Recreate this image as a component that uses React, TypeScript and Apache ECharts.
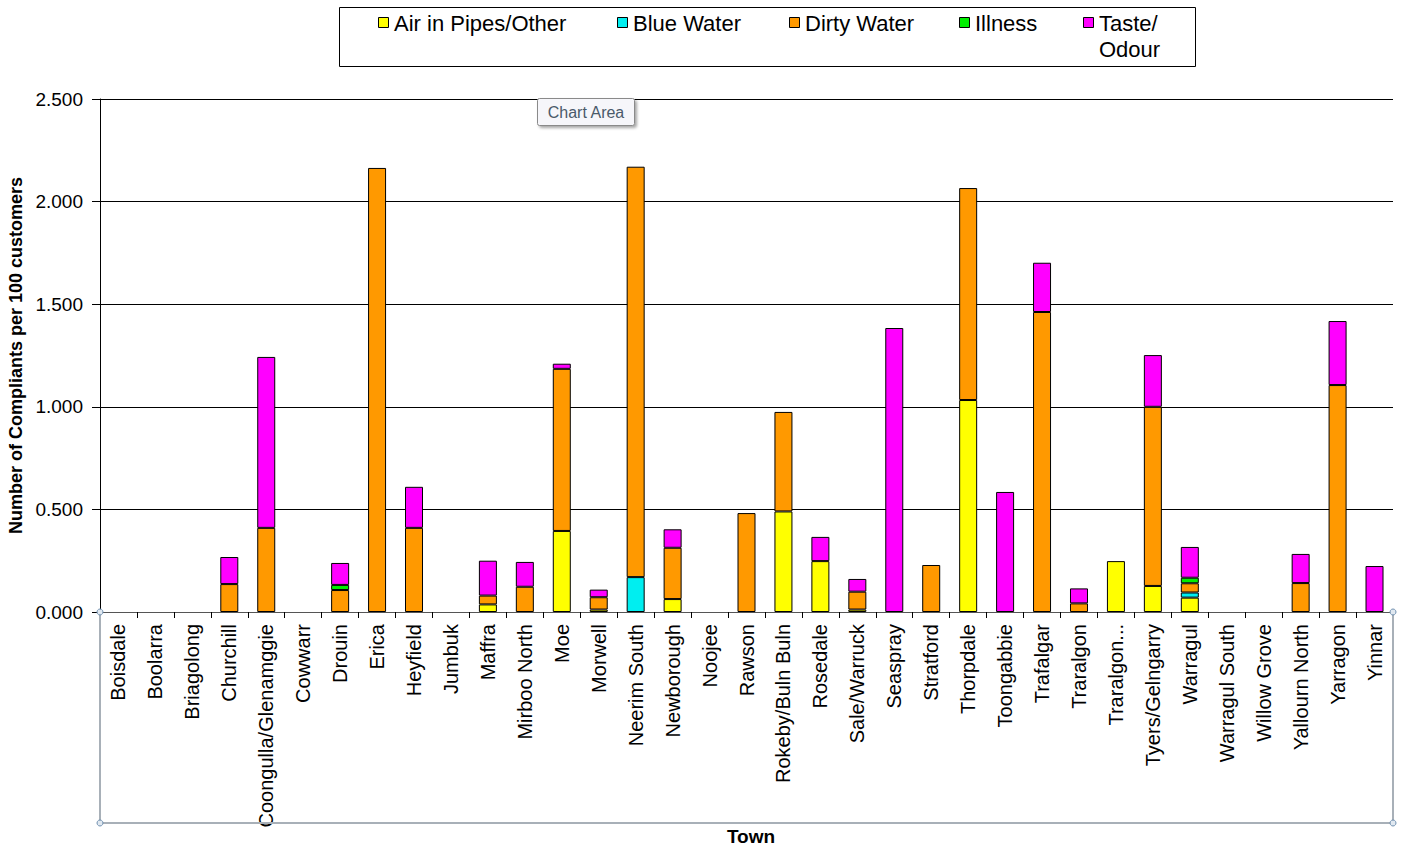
import React, { useEffect, useRef } from "react";
import * as echarts from "echarts";

const towns = [
  "Boisdale", "Boolarra", "Briagolong", "Churchill", "Coongulla/Glenamggie", "Cowwarr",
  "Drouin", "Erica", "Heyfield", "Jumbuk", "Maffra", "Mirboo North", "Moe", "Morwell",
  "Neerim South", "Newborough", "Noojee", "Rawson", "Rokeby/Buln Buln", "Rosedale",
  "Sale/Warruck", "Seaspray", "Stratford", "Thorpdale", "Toongabbie", "Trafalgar",
  "Traralgon", "Traralgon...", "Tyers/Gelngarry", "Warragul", "Warragul South",
  "Willow Grove", "Yallourn North", "Yarragon", "Yinnar",
];

const N = null;
const airInPipes = [N, N, N, N, N, N, N, N, N, N, 0.037, N, 0.395, 0.012, N, 0.063, N, N, 0.49, 0.248, 0.012, N, N, 1.033, N, N, N, 0.248, 0.127, 0.07, N, N, N, N, N];
const blueWater = [N, N, N, N, N, N, N, N, N, N, N, N, N, N, 0.17, N, N, N, N, N, N, N, N, N, N, N, N, N, N, 0.025, N, N, N, N, N];
const dirtyWater = [N, N, N, 0.136, 0.41, N, 0.107, 2.164, 0.41, N, 0.043, 0.123, 0.79, 0.06, 2.0, 0.25, N, 0.482, 0.485, N, 0.087, N, 0.229, 1.033, N, 1.462, 0.042, N, 0.873, 0.045, N, N, 0.141, 1.106, N];
const illness = [N, N, N, N, N, N, 0.025, N, N, N, N, N, N, N, N, N, N, N, N, N, N, N, N, N, N, N, N, N, N, 0.027, N, N, N, N, N];
const tasteOdour = [N, N, N, 0.132, 0.833, N, 0.107, N, 0.2, N, 0.17, 0.121, 0.025, 0.037, N, 0.09, N, N, N, 0.118, 0.062, 1.384, N, N, 0.585, 0.24, 0.073, N, 0.252, 0.15, N, N, 0.142, 0.312, 0.224];

const seriesNames = ["Air in Pipes/Other", "Blue Water", "Dirty Water", "Illness", "Taste/\nOdour"];
const seriesColors = ["#FFFF00", "#00EEF0", "#FF9900", "#00EE00", "#FF00FF"];
const seriesData = [airInPipes, blueWater, dirtyWater, illness, tasteOdour];
const yTicks = [0, 0.5, 1, 1.5, 2, 2.5];

const legendMarkerX = [378, 617, 789, 959, 1083];

const FONT = "'Liberation Sans', Arial, sans-serif";

export default function App() {
  const ref = useRef<HTMLDivElement>(null);
  useEffect(() => {
    if (!ref.current) return;
    const chart = echarts.init(ref.current, undefined, { renderer: "svg" });
    const legendGraphics: any[] = [
      {
        type: "rect",
        shape: { x: 339.5, y: 7.5, width: 856, height: 59 },
        style: { fill: "#fff", stroke: "#000", lineWidth: 1 },
      },
    ];
    seriesNames.forEach((name, i) => {
      legendGraphics.push({
        type: "rect",
        shape: { x: legendMarkerX[i] + 0.5, y: 17.5, width: 10, height: 10 },
        style: { fill: seriesColors[i], stroke: "#000", lineWidth: 1 },
      });
      legendGraphics.push({
        type: "text",
        x: legendMarkerX[i] + 16,
        y: 10,
        style: { text: name, font: `22px ${FONT}`, fill: "#000", lineHeight: 26, textVerticalAlign: "top" },
      });
    });
    const frame: any[] = [
      { type: "polyline", shape: { points: [[100, 612], [100, 823], [1393, 823], [1393, 612]] }, style: { stroke: "#A8B0B8", lineWidth: 2, fill: null }, z: 1 },
    ];
    [[100, 612], [1393, 612], [100, 823], [1393, 823]].forEach(([cx, cy]) => {
      frame.push({ type: "circle", shape: { cx, cy, r: 3 }, style: { fill: "#E0E8F0", stroke: "#7090B0", lineWidth: 1 }, z: 10 });
    });
    const tip: any[] = [
      { type: "rect", shape: { x: 537.5, y: 98.5, width: 97, height: 27, r: 2 }, style: { fill: "#F6F6FA", stroke: "#8A8A8A", lineWidth: 1, shadowBlur: 3, shadowOffsetX: 2, shadowOffsetY: 2, shadowColor: "rgba(0,0,0,0.35)" }, z: 20 },
      { type: "text", x: 586, y: 112, style: { text: "Chart Area", font: `16px ${FONT}`, fill: "#4A5A6A", textAlign: "center", textVerticalAlign: "middle" }, z: 21 },
    ];
    chart.setOption({
      animation: false,
      backgroundColor: "#fff",
      grid: { left: 100, right: 9, top: 99, bottom: 235, containLabel: false, outerBoundsMode: "none" },
      xAxis: {
        type: "category",
        data: towns,
        axisLine: { lineStyle: { color: "#555", width: 1 } },
        axisTick: { show: true, length: 6, lineStyle: { color: "#000" } },
        axisLabel: { rotate: 90, interval: 0, margin: 12, fontFamily: FONT, fontSize: 20, color: "#000" },
      },
      yAxis: {
        type: "value",
        min: 0,
        max: 2.5,
        interval: 0.5,
        name: "Number of Compliants per 100 customers",
        nameLocation: "middle",
        nameGap: 74,
        nameTextStyle: { fontFamily: FONT, fontWeight: "bold", fontSize: 18, color: "#000" },
        axisLine: { show: true, lineStyle: { color: "#000", width: 1 } },
        axisTick: { show: true, inside: false, length: 8, lineStyle: { color: "#000" } },
        splitLine: { show: true, lineStyle: { color: "#000", width: 1 } },
        axisLabel: {
          fontFamily: FONT,
          fontSize: 19,
          color: "#000",
          margin: 17,
          formatter: (v: number) => (yTicks.includes(v) ? v.toFixed(3) : ""),
        },
      },
      series: seriesNames.map((name, i) => ({
        name,
        type: "bar",
        stack: "total",
        barWidth: 18,
        data: seriesData[i],
        itemStyle: { color: seriesColors[i], borderColor: "#000", borderWidth: 1 },
      })),
      graphic: [
        ...frame,
        ...legendGraphics,
        ...tip,
        { type: "text", x: 751, y: 836, style: { text: "Town", font: `bold 19px ${FONT}`, fill: "#000", textAlign: "center", textVerticalAlign: "middle" }, z: 5 },
      ],
    });
    return () => chart.dispose();
  }, []);
  return <div ref={ref} style={{ position: "fixed", left: 0, top: 0, width: 1402, height: 847 }} />;
}
